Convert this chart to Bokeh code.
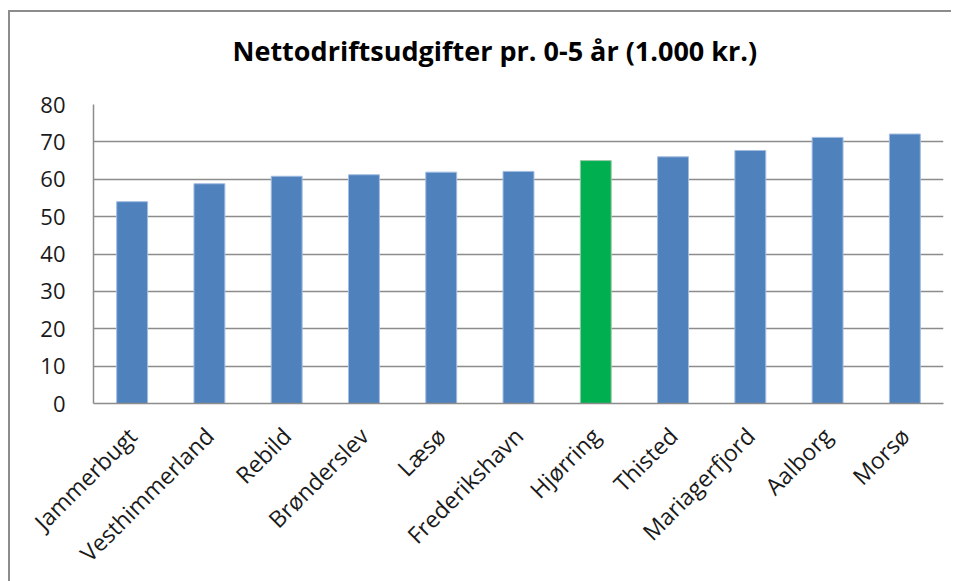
import math
from bokeh.plotting import figure
from bokeh.models import ColumnDataSource, FixedTicker, Title
from bokeh.embed import file_html
from bokeh.resources import INLINE

municipalities = ["Jammerbugt", "Vesthimmerland", "Rebild", "Brønderslev", "Læsø",
                  "Frederikshavn", "Hjørring", "Thisted", "Mariagerfjord", "Aalborg", "Morsø"]
values = [54.0, 58.8, 60.8, 61.2, 61.9, 62.1, 65.0, 66.0, 67.7, 71.2, 72.1]
highlight = "Hjørring"
y_ticks = [0, 10, 20, 30, 40, 50, 60, 70, 80]
title_text = "Nettodriftsudgifter pr. 0-5 år (1.000 kr.)"

BLUE = "#4F81BD"
GREEN = "#00B050"
colors = [GREEN if m == highlight else BLUE for m in municipalities]
edges = ["#9ec9a8" if m == highlight else "#a3bde0" for m in municipalities]

src = ColumnDataSource(dict(x=municipalities, top=values, color=colors, edge=edges))

FONT = "Open Sans"

p = figure(x_range=municipalities, y_range=(0, 80),
           frame_width=850, frame_height=299,
           min_border_left=83, min_border_right=8, min_border_top=92, min_border_bottom=160,
           output_backend="svg", toolbar_location=None, title=None)
p.styles = {"border-top": "2px solid #8c8c8c", "border-left": "2px solid #8c8c8c",
            "margin-top": "10px", "margin-left": "8px"}

# thin spacer between the frame and the title
spacer = Title(text=" ", text_font_size="1px", standoff=33, text_color="white")
p.add_layout(spacer, "above")

t = Title(text=title_text, align="left",
          text_font=FONT, text_font_size="27px", text_font_style="bold",
          text_color="#000000", offset=139, standoff=0)
p.add_layout(t, "above")

p.vbar(x="x", top="top", width=0.4, source=src, fill_color="color",
       line_color="edge", line_width=1)

p.outline_line_color = None
p.background_fill_color = "white"
p.border_fill_color = "white"

p.xgrid.grid_line_color = None
p.ygrid.grid_line_color = "#8c8c8c"
p.ygrid.grid_line_width = 1.5
p.ygrid.ticker = FixedTicker(ticks=y_ticks)

p.yaxis.ticker = FixedTicker(ticks=y_ticks)
p.yaxis.axis_line_color = "#8c8c8c"
p.yaxis.axis_line_width = 1.5
p.yaxis.major_tick_line_color = None
p.yaxis.minor_tick_line_color = None
p.yaxis.major_label_standoff = 22
p.yaxis.major_label_text_font = FONT
p.yaxis.major_label_text_font_size = "22px"
p.yaxis.major_label_text_color = "#1a1a1a"

p.xaxis.axis_line_color = "#8c8c8c"
p.xaxis.axis_line_width = 1.5
p.xaxis.major_tick_line_color = None
p.xaxis.major_label_orientation = math.pi / 4
p.xaxis.major_label_standoff = 22
p.xaxis.major_label_text_font = FONT
p.xaxis.major_label_text_font_size = "23px"
p.xaxis.major_label_text_color = "#1a1a1a"

open("out.html", "w").write(file_html(p, INLINE))
